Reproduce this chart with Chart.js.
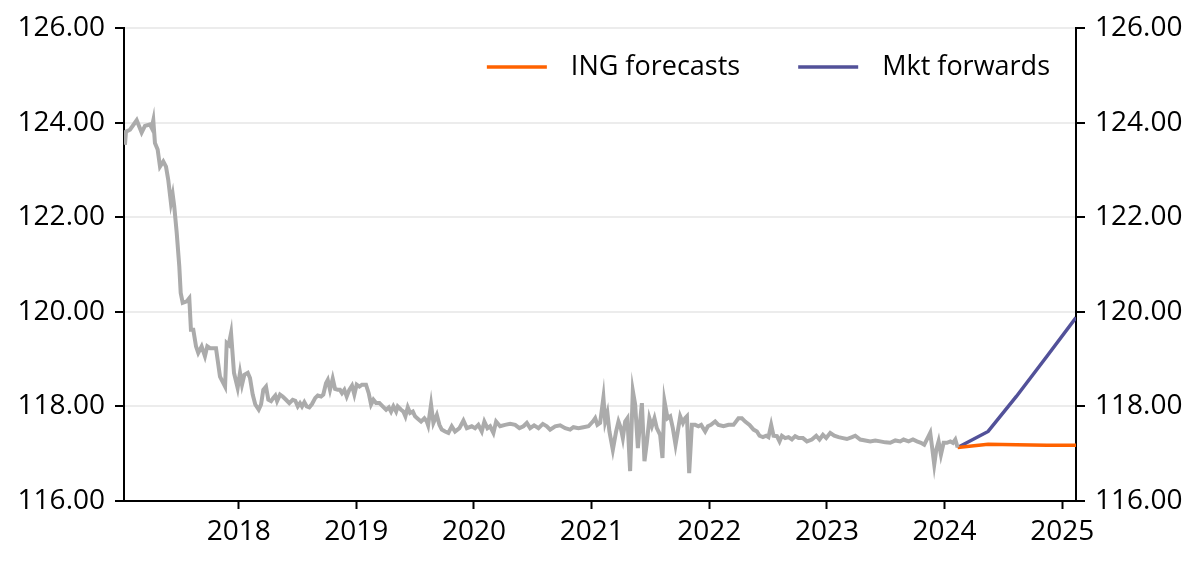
<!DOCTYPE html>
<html>
<head>
<meta charset="utf-8">
<script src="https://cdn.jsdelivr.net/npm/chart.js@4.4.1/dist/chart.umd.min.js"></script>
<style>
  html, body { margin: 0; padding: 0; background: #fff; }
  #wrap { width: 1200px; height: 566px; }
</style>
</head>
<body>
<div id="wrap"><canvas id="chart"></canvas></div>
<script>
// Historique (dates en années décimales)
const histDates = [
  2017.033, 2017.042, 2017.076, 2017.133, 2017.175, 2017.203, 2017.246, 2017.260, 2017.274, 2017.288,
  2017.311, 2017.331, 2017.359, 2017.382, 2017.401, 2017.424, 2017.439, 2017.452, 2017.473, 2017.495,
  2017.507, 2017.524, 2017.558, 2017.580, 2017.594, 2017.614, 2017.637, 2017.656, 2017.685, 2017.713,
  2017.733, 2017.756, 2017.807, 2017.841, 2017.884, 2017.898, 2017.915, 2017.935, 2017.960, 2017.991,
  2018.011, 2018.028, 2018.048, 2018.077, 2018.096, 2018.119, 2018.141, 2018.170, 2018.190, 2018.209,
  2018.232, 2018.252, 2018.275, 2018.294, 2018.311, 2018.326, 2018.351, 2018.374, 2018.402, 2018.430,
  2018.459, 2018.481, 2018.502, 2018.521, 2018.538, 2018.558, 2018.578, 2018.600, 2018.623, 2018.651,
  2018.672, 2018.700, 2018.719, 2018.742, 2018.757, 2018.776, 2018.799, 2018.819, 2018.842, 2018.861,
  2018.878, 2018.898, 2018.918, 2018.940, 2018.963, 2018.983, 2019.003, 2019.026, 2019.048, 2019.082,
  2019.105, 2019.125, 2019.145, 2019.168, 2019.196, 2019.224, 2019.253, 2019.276, 2019.295, 2019.315,
  2019.338, 2019.352, 2019.380, 2019.400, 2019.417, 2019.437, 2019.457, 2019.480, 2019.499, 2019.522,
  2019.550, 2019.578, 2019.599, 2019.610, 2019.635, 2019.655, 2019.684, 2019.706, 2019.726, 2019.754,
  2019.782, 2019.811, 2019.839, 2019.876, 2019.910, 2019.939, 2019.981, 2020.009, 2020.037, 2020.066,
  2020.088, 2020.114, 2020.137, 2020.165, 2020.188, 2020.222, 2020.264, 2020.307, 2020.350, 2020.386,
  2020.420, 2020.449, 2020.477, 2020.511, 2020.548, 2020.585, 2020.619, 2020.647, 2020.690, 2020.732,
  2020.775, 2020.817, 2020.845, 2020.888, 2020.930, 2020.973, 2021.010, 2021.030, 2021.049, 2021.072,
  2021.100, 2021.115, 2021.134, 2021.151, 2021.180, 2021.208, 2021.228, 2021.248, 2021.265, 2021.285,
  2021.304, 2021.327, 2021.350, 2021.370, 2021.393, 2021.412, 2021.427, 2021.449, 2021.469, 2021.491,
  2021.512, 2021.534, 2021.554, 2021.582, 2021.602, 2021.619, 2021.645, 2021.668, 2021.690, 2021.713,
  2021.730, 2021.753, 2021.776, 2021.795, 2021.810, 2021.829, 2021.852, 2021.880, 2021.908, 2021.931,
  2021.965, 2021.988, 2022.014, 2022.050, 2022.078, 2022.121, 2022.163, 2022.206, 2022.248, 2022.277,
  2022.305, 2022.342, 2022.376, 2022.405, 2022.427, 2022.456, 2022.484, 2022.503, 2022.526, 2022.546,
  2022.575, 2022.597, 2022.617, 2022.645, 2022.673, 2022.702, 2022.730, 2022.759, 2022.796, 2022.830,
  2022.872, 2022.909, 2022.937, 2022.966, 2022.994, 2023.028, 2023.062, 2023.099, 2023.136, 2023.170,
  2023.213, 2023.241, 2023.283, 2023.326, 2023.368, 2023.411, 2023.453, 2023.496, 2023.538, 2023.581,
  2023.623, 2023.651, 2023.694, 2023.731, 2023.765, 2023.799, 2023.827, 2023.864, 2023.878, 2023.893,
  2023.912, 2023.929, 2023.949, 2023.969, 2023.992, 2024.020, 2024.049, 2024.071, 2024.091, 2024.111
];
const histValues = [
  123.53, 123.81, 123.85, 124.05, 123.79, 123.93, 123.96, 123.89, 124.05, 123.57,
  123.43, 123.07, 123.18, 123.07, 122.79, 122.30, 122.48, 122.23, 121.67, 120.96,
  120.40, 120.19, 120.22, 120.29, 119.62, 119.62, 119.27, 119.13, 119.27, 119.06,
  119.27, 119.23, 119.23, 118.63, 118.42, 119.34, 119.30, 119.55, 118.71, 118.39,
  118.71, 118.46, 118.67, 118.71, 118.60, 118.25, 118.04, 117.93, 118.04, 118.35,
  118.42, 118.14, 118.11, 118.18, 118.23, 118.11, 118.25, 118.21, 118.14, 118.07,
  118.14, 118.12, 118.00, 118.07, 118.00, 118.09, 118.00, 117.98, 118.05, 118.18,
  118.23, 118.21, 118.25, 118.49, 118.56, 118.35, 118.59, 118.37, 118.35, 118.35,
  118.28, 118.35, 118.21, 118.35, 118.44, 118.25, 118.46, 118.42, 118.46, 118.46,
  118.28, 118.04, 118.14, 118.07, 118.07, 118.00, 117.93, 117.98, 117.89, 118.00,
  117.89, 118.00, 117.93, 117.89, 117.79, 117.98, 117.86, 117.89, 117.79, 117.74,
  117.68, 117.75, 117.68, 117.60, 118.04, 117.65, 117.82, 117.61, 117.51, 117.47,
  117.44, 117.58, 117.47, 117.54, 117.70, 117.54, 117.58, 117.54, 117.61, 117.47,
  117.68, 117.54, 117.58, 117.44, 117.68, 117.58, 117.61, 117.63, 117.61, 117.54,
  117.58, 117.65, 117.54, 117.60, 117.54, 117.63, 117.58, 117.51, 117.58, 117.60,
  117.54, 117.51, 117.56, 117.54, 117.56, 117.58, 117.68, 117.75, 117.61, 117.65,
  118.19, 117.68, 117.86, 117.47, 117.08, 117.47, 117.68, 117.54, 117.33, 117.68,
  117.75, 116.63, 118.33, 118.04, 117.12, 117.68, 118.07, 116.84, 117.23, 117.75,
  117.58, 117.75, 117.54, 117.40, 116.91, 118.11, 117.75, 117.79, 117.54, 117.19,
  117.44, 117.79, 117.65, 117.75, 117.79, 116.59, 117.61, 117.61, 117.58, 117.61,
  117.47, 117.58, 117.61, 117.68, 117.61, 117.58, 117.61, 117.61, 117.75, 117.75,
  117.68, 117.61, 117.51, 117.47, 117.38, 117.35, 117.38, 117.35, 117.61, 117.38,
  117.37, 117.26, 117.38, 117.33, 117.35, 117.30, 117.37, 117.33, 117.33, 117.26,
  117.30, 117.38, 117.30, 117.40, 117.33, 117.44, 117.38, 117.35, 117.33, 117.31,
  117.35, 117.38, 117.30, 117.28, 117.26, 117.28, 117.26, 117.24, 117.23, 117.28,
  117.26, 117.30, 117.26, 117.30, 117.26, 117.23, 117.19, 117.37, 117.44, 117.15,
  116.77, 117.08, 117.26, 116.98, 117.23, 117.23, 117.26, 117.23, 117.30, 117.13
];

// Prévisions
const fcDates = [2024.111, 2024.37, 2024.61, 2024.87, 2025.117];
const ingForecasts = [117.13, 117.20, 117.19, 117.18, 117.18];
const mktForwards = [117.13, 117.47, 118.21, 119.06, 119.88];

// Axes
const xYears = [2018, 2019, 2020, 2021, 2022, 2023, 2024, 2025];
const yTicks = [116, 118, 120, 122, 124, 126];

function toPoints(xs, ys) {
    return xs.map((x, i) => ({ x: x, y: ys[i] }));
}

const font = { family: "'Open Sans', sans-serif", size: 28 };
const legendFont = { family: "'Open Sans', sans-serif", size: 27 };

// Légende dessinée dans la zone du graphique, alignée à droite
const insideLegend = {
    id: 'insideLegend',
    afterDatasetsDraw(chart) {
        const ctx = chart.ctx;
        const area = chart.chartArea;
        const items = chart.data.datasets.filter(ds => ds.showInLegend);
        const lineLen = 60, textGap = 24, itemGap = 58;
        const y = area.top + 39;
        ctx.save();
        ctx.font = `${legendFont.size}px ${legendFont.family}`;
        ctx.textBaseline = 'middle';
        ctx.textAlign = 'left';
        let x = area.right - 26;
        const widths = items.map(ds => ctx.measureText(ds.label).width);
        for (let i = items.length - 1; i >= 0; i--) {
            x -= widths[i];
            ctx.fillStyle = '#000';
            ctx.fillText(items[i].label, x, y);
            x -= textGap;
            ctx.strokeStyle = items[i].borderColor;
            ctx.lineWidth = 3.5;
            ctx.beginPath();
            ctx.moveTo(x - lineLen, y);
            ctx.lineTo(x, y);
            ctx.stroke();
            x -= lineLen + itemGap;
        }
        ctx.restore();
    }
};

const yScale = (position) => ({
    position: position,
    min: 116,
    max: 126,
    afterBuildTicks: scale => { scale.ticks = yTicks.map(v => ({ value: v })); },
    afterFit: scale => { scale.width = 124; },
    ticks: {
        color: '#000',
        font: font,
        padding: 10,
        callback: v => v.toFixed(2)
    },
    grid: {
        color: position === 'left' ? '#ececec' : 'transparent',
        lineWidth: 2,
        drawOnChartArea: position === 'left',
        tickColor: '#000',
        tickLength: 9,
        tickWidth: 2
    },
    border: { display: true, color: '#000', width: 2 }
});

new Chart(document.getElementById('chart').getContext('2d'), {
    type: 'line',
    data: {
        datasets: [
            {
                label: 'History',
                data: toPoints(histDates, histValues),
                borderColor: '#ababab',
                borderWidth: 4,
                showInLegend: false,
                yAxisID: 'y'
            },
            {
                label: 'ING forecasts',
                data: toPoints(fcDates, ingForecasts),
                borderColor: '#ff6200',
                borderWidth: 3.5,
                showInLegend: true,
                yAxisID: 'y'
            },
            {
                label: 'Mkt forwards',
                data: toPoints(fcDates, mktForwards),
                borderColor: '#525199',
                borderWidth: 3.5,
                showInLegend: true,
                yAxisID: 'y'
            }
        ]
    },
    options: {
        responsive: true,
        maintainAspectRatio: false,
        animation: false,
        layout: { padding: { top: 28, left: 0, right: 0, bottom: 0 } },
        elements: { point: { radius: 0 }, line: { tension: 0 } },
        plugins: {
            tooltip: { enabled: false },
            legend: { display: false }
        },
        scales: {
            x: {
                type: 'linear',
                min: 2017.025,
                max: 2025.117,
                afterBuildTicks: scale => { scale.ticks = xYears.map(v => ({ value: v })); },
                afterFit: scale => { scale.height = 65; },
                ticks: {
                    color: '#000',
                    font: font,
                    padding: 6,
                    maxRotation: 0,
                    callback: v => String(v)
                },
                grid: {
                    drawOnChartArea: false,
                    tickColor: '#000',
                    tickLength: 8,
                    tickWidth: 2
                },
                border: { display: true, color: '#000', width: 2 }
            },
            y: yScale('left'),
            y2: yScale('right')
        }
    },
    plugins: [insideLegend]
});
</script>
</body>
</html>
